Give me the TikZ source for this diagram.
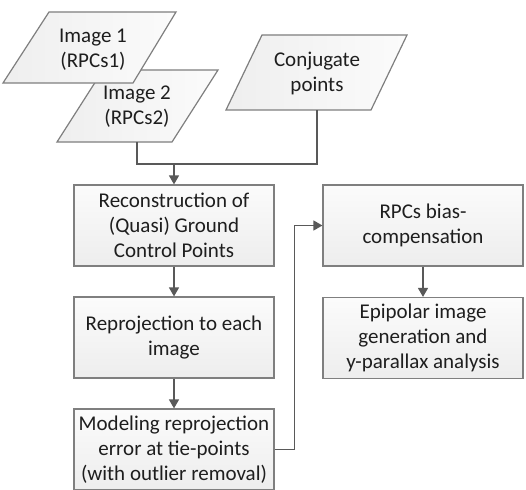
\documentclass[tikz,border=0pt]{standalone}
\usepackage{fontspec}
\setmainfont{Carlito}
\usetikzlibrary{arrows.meta,calc}
\definecolor{bordergray}{HTML}{7F7F7F}
\definecolor{linegray}{HTML}{595959}
\definecolor{txt}{HTML}{1E1E1E}
\begin{document}
\begin{tikzpicture}[x=1pt,y=-1pt,
  txtfont/.style={font=\fontsize{21}{25}\selectfont, text=txt},
  box/.style={draw=bordergray, line width=1.2pt, top color=gray!3, bottom color=gray!14,
    minimum width=200pt, minimum height=81pt, inner sep=0pt, align=center, txtfont},
  para/.style={draw=bordergray, line width=1.2pt, left color=gray!13, right color=gray!3},
  lbl/.style={align=center, inner sep=0pt, txtfont},
  conn/.style={draw=linegray, line width=1.4pt},
  arr/.style={conn, -{Triangle[length=9pt,width=10pt]}}]
\useasboundingbox (0,0) rectangle (526,489);
\clip (0,0) rectangle (526,489);
\fill[white] (0,0) rectangle (526,489);
% input parallelograms
\path[para] (103,70) -- (218,70) -- (172,142) -- (57,142) -- cycle;
\path[para] (49,12) -- (176,12) -- (133,83) -- (3,83) -- cycle;
\path[para] (262,35) -- (407,35) -- (371,110) -- (226,110) -- cycle;
\node[lbl] (img1) at (93,50) {Image 1\\(RPCs1)};
\node[lbl] (img2) at (137,107) {Image 2\\(RPCs2)};
\node[lbl] (conj) at (317,73) {Conjugate\\points};
\coordinate (img2b) at (137,142);
\coordinate (conjb) at (317,110);
\coordinate (join) at (174,164);
% process boxes
\node[box] (rec) at (174,225.5) {Reconstruction of\\(Quasi) Ground\\Control Points};
\node[box] (rep) at (174,337.5) {Reprojection to each\\image};
\node[box] (mod) at (174,449.5) {Modeling reprojection\\error at tie-points\\(with outlier removal)};
\node[box] (rpc) at (423,225.5) {RPCs bias-\\compensation};
\node[box] (epi) at (423,338) {Epipolar image\\generation and\\y-parallax analysis};
% connectors
\draw[conn] (img2b) |- (join) -| (conjb);
\draw[arr] (join) -- (rec.north);
\draw[arr] (rec) -- (rep);
\draw[arr] (rep) -- (mod);
\draw[arr] (rpc) -- (epi);
\draw[arr] (mod.east) -- ++(20,0) |- (rpc.west);
\end{tikzpicture}
\end{document}
